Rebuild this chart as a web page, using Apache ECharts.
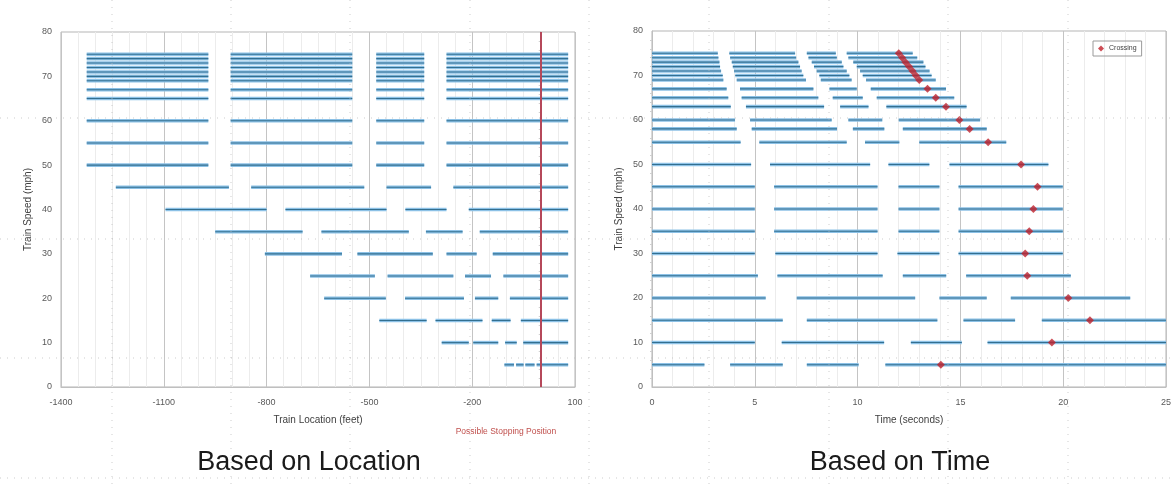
<!DOCTYPE html>
<html>
<head>
<meta charset="utf-8">
<script src="https://cdn.jsdelivr.net/npm/echarts@6/dist/echarts.min.js"></script>
<style>
html,body{margin:0;padding:0;background:#fff;}
#chart{width:1175px;height:487px;}
</style>
</head>
<body>
<div id="chart"></div>
<script>
// ---------- Left panel: Based on Location ----------
const leftTitle = 'Based on Location';
const leftXTicks = [-1400, -1100, -800, -500, -200, 100];
const leftSpeeds = [75, 74, 73, 72, 71, 70, 69, 67, 65, 60, 55, 50, 45, 40, 35, 30, 25, 20, 15, 10, 5];
const leftSegments = [
  [[-1325,-970],[-905,-550],[-480,-340],[-275,80]],
  [[-1325,-970],[-905,-550],[-480,-340],[-275,80]],
  [[-1325,-970],[-905,-550],[-480,-340],[-275,80]],
  [[-1325,-970],[-905,-550],[-480,-340],[-275,80]],
  [[-1325,-970],[-905,-550],[-480,-340],[-275,80]],
  [[-1325,-970],[-905,-550],[-480,-340],[-275,80]],
  [[-1325,-970],[-905,-550],[-480,-340],[-275,80]],
  [[-1325,-970],[-905,-550],[-480,-340],[-275,80]],
  [[-1325,-970],[-905,-550],[-480,-340],[-275,80]],
  [[-1325,-970],[-905,-550],[-480,-340],[-275,80]],
  [[-1325,-970],[-905,-550],[-480,-340],[-275,80]],
  [[-1325,-970],[-905,-550],[-480,-340],[-275,80]],
  [[-1240,-910],[-845,-515],[-450,-320],[-255,80]],
  [[-1095,-800],[-745,-450],[-395,-275],[-210,80]],
  [[-950,-695],[-640,-385],[-335,-228],[-178,80]],
  [[-805,-580],[-535,-315],[-275,-187],[-140,80]],
  [[-673,-484],[-447,-255],[-221,-145],[-109,80]],
  [[-632,-452],[-396,-224],[-192,-124],[-90,80]],
  [[-471,-333],[-307,-170],[-143,-88],[-58,80]],
  [[-289,-210],[-197,-124],[-104,-70],[-51,80]],
  [[-106,-78],[-72,-50],[-45,-18],[-12,80]]
];
const stoppingPosition = 0;

// ---------- Right panel: Based on Time ----------
const rightTitle = 'Based on Time';
const rightXTicks = [0, 5, 10, 15, 20, 25];
const rightSpeeds = [75, 74, 73, 72, 71, 70, 69, 67, 65, 63, 60, 58, 55, 50, 45, 40, 35, 30, 25, 20, 15, 10, 5];
const rightSegments = [
  [[0,3.20],[3.76,6.96],[7.53,8.94],[9.47,12.68]],
  [[0,3.23],[3.80,7.01],[7.61,8.99],[9.55,12.90]],
  [[0,3.28],[3.88,7.12],[7.77,9.23],[9.79,13.20]],
  [[0,3.31],[3.93,7.20],[7.88,9.31],[9.96,13.30]],
  [[0,3.36],[3.99,7.28],[8.01,9.47],[10.12,13.50]],
  [[0,3.44],[4.05,7.36],[8.14,9.60],[10.25,13.60]],
  [[0,3.47],[4.12,7.49],[8.21,9.71],[10.41,13.80]],
  [[0,3.63],[4.28,7.85],[8.63,9.96],[10.64,14.30]],
  [[0,3.71],[4.36,8.09],[8.79,10.25],[10.93,14.70]],
  [[0,3.83],[4.57,8.37],[9.15,10.53],[11.40,15.30]],
  [[0,4.04],[4.77,8.74],[9.55,11.20],[12.00,15.96]],
  [[0,4.12],[4.85,9.00],[9.77,11.30],[12.20,16.28]],
  [[0,4.31],[5.22,9.47],[10.36,12.03],[13.00,17.23]],
  [[0,4.82],[5.74,10.61],[11.50,13.49],[14.47,19.28]],
  [[0,5.00],[5.94,10.97],[11.99,13.98],[14.91,19.98]],
  [[0,5.00],[5.94,10.97],[11.99,13.98],[14.91,19.98]],
  [[0,5.00],[5.94,10.97],[11.99,13.98],[14.91,19.98]],
  [[0,5.00],[6.00,10.97],[11.94,13.98],[14.91,19.98]],
  [[0,5.15],[6.10,11.22],[12.20,14.31],[15.28,20.37]],
  [[0,5.53],[7.04,12.80],[13.98,16.28],[17.45,23.26]],
  [[0,6.36],[7.53,13.88],[15.15,17.66],[18.96,25.00]],
  [[0,5.00],[6.31,11.29],[12.59,15.07],[16.32,25.00]],
  [[0,2.55],[3.80,6.36],[7.53,10.05],[11.35,25.00]]
];
const crossingTimes  = [12.0, 12.17, 12.33, 12.5, 12.67, 12.83, 13.0, 13.4, 13.8, 14.3, 14.95, 15.45, 16.35, 17.95, 18.75, 18.55, 18.35, 18.15, 18.25, 20.25, 21.3, 19.45, 14.05];
const crossingSpeeds = [75, 74, 73, 72, 71, 70, 69, 67, 65, 63, 60, 58, 55, 50, 45, 40, 35, 30, 25, 20, 15, 10, 5];

function flatten(speeds, segs) {
  const out = [];
  speeds.forEach((s, i) => segs[i].forEach(seg => out.push([seg[0], seg[1], s])));
  return out;
}

function renderSeg(params, api) {
  const y = api.value(2);
  const p1 = api.coord([api.value(0), y]);
  const p2 = api.coord([api.value(1), y]);
  const shape = {x1: p1[0], y1: p1[1], x2: p2[0], y2: p2[1]};
  return {
    type: 'group',
    children: [
      {type: 'line', shape: shape, style: {stroke: '#8cc1e6', lineWidth: 3.6}},
      {type: 'line', shape: shape, style: {stroke: '#336f90', lineWidth: 1.1}}
    ]
  };
}

const FONT = 'Liberation Sans';
const labelStyle = {color: '#595959', fontSize: 9, fontFamily: FONT};
const nameStyle = {color: '#404040', fontSize: 10, fontFamily: FONT};

function xAxis(idx, min, max, interval, minorSplit, name) {
  return {
    type: 'value', gridIndex: idx, min: min, max: max, interval: interval,
    name: name, nameLocation: 'middle', nameGap: 28, nameTextStyle: nameStyle,
    axisLine: {show: true, lineStyle: {color: '#bfbfbf'}},
    axisTick: {show: false},
    axisLabel: Object.assign({margin: 11, formatter: v => String(v)}, labelStyle),
    splitLine: {show: true, lineStyle: {color: '#c4c4c4', width: 1}},
    minorTick: {show: false, splitNumber: minorSplit},
    minorSplitLine: {show: true, lineStyle: {color: '#ececec', width: 1}}
  };
}
function yAxis(idx) {
  return {
    type: 'value', gridIndex: idx, min: 0, max: 80, interval: 10,
    name: 'Train Speed (mph)', nameLocation: 'middle', nameGap: 28, nameTextStyle: nameStyle,
    axisLine: {show: true, lineStyle: {color: '#bfbfbf'}},
    axisTick: {show: false},
    minorTick: {show: true, splitNumber: 5, length: 2, lineStyle: {color: '#d0d0d0'}},
    axisLabel: Object.assign({margin: 9, formatter: v => String(v)}, labelStyle),
    splitLine: {show: false}
  };
}

// faint slide guide lines
const guides = [];
[112, 231, 350, 470, 589, 709, 829, 948, 1068].forEach(x => guides.push({
  type: 'line', silent: true, z: 100,
  shape: {x1: x, y1: 0, x2: x, y2: 487},
  style: {stroke: '#b8b8b8', lineWidth: 1, lineDash: [1, 6], opacity: 0.7}
}));
[118, 239, 358, 478].forEach(y => guides.push({
  type: 'line', silent: true, z: 100,
  shape: {x1: 0, y1: y, x2: 1175, y2: y},
  style: {stroke: '#b8b8b8', lineWidth: 1, lineDash: [1, 6], opacity: 0.7}
}));

const chart = echarts.init(document.getElementById('chart'), null, {renderer: 'canvas'});
chart.setOption({
  animation: false,
  backgroundColor: '#fff',
  textStyle: {fontFamily: FONT},
  grid: [
    {left: 61, top: 32, width: 514, height: 355, show: true, borderColor: '#b5b5b5', borderWidth: 1, backgroundColor: 'transparent'},
    {left: 652, top: 31, width: 514, height: 356, show: true, borderColor: '#b5b5b5', borderWidth: 1, backgroundColor: 'transparent'}
  ],
  xAxis: [
    xAxis(0, leftXTicks[0], leftXTicks[leftXTicks.length - 1], 300, 6, 'Train Location (feet)'),
    xAxis(1, rightXTicks[0], rightXTicks[rightXTicks.length - 1], 5, 5, 'Time (seconds)')
  ],
  yAxis: [yAxis(0), yAxis(1)],
  legend: {
    data: [{name: 'Crossing', icon: 'diamond'}],
    left: 1093, top: 41,
    itemWidth: 6, itemHeight: 6, itemGap: 2,
    padding: [4, 5],
    borderColor: '#9a9a9a', borderWidth: 1,
    textStyle: {fontSize: 7, color: '#404040', fontFamily: FONT}
  },
  series: [
    {
      type: 'custom', name: 'Location', xAxisIndex: 0, yAxisIndex: 0,
      data: flatten(leftSpeeds, leftSegments),
      encode: {x: [0, 1], y: 2},
      renderItem: renderSeg,
      clip: true,
      markLine: {
        silent: true, symbol: 'none', label: {show: false},
        lineStyle: {color: '#b5485a', width: 2, type: 'solid'},
        data: [{xAxis: stoppingPosition}]
      }
    },
    {
      type: 'custom', name: 'Time', xAxisIndex: 1, yAxisIndex: 1,
      data: flatten(rightSpeeds, rightSegments),
      encode: {x: [0, 1], y: 2},
      renderItem: renderSeg,
      clip: true
    },
    {
      type: 'scatter', name: 'Crossing', xAxisIndex: 1, yAxisIndex: 1,
      symbol: 'diamond', symbolSize: 8,
      itemStyle: {color: '#c0202a'},
      data: crossingTimes.map((t, i) => [t, crossingSpeeds[i]]),
      z: 5
    }
  ],
  graphic: guides.concat([
    {type: 'text', x: 506, y: 432, style: {text: 'Possible Stopping Position', fill: '#c0504d', font: '8.5px "Liberation Sans"', textAlign: 'center', textVerticalAlign: 'middle'}},
    {type: 'text', x: 309, y: 463, style: {text: leftTitle, fill: '#1a1a1a', font: '27px "Liberation Sans"', textAlign: 'center', textVerticalAlign: 'middle'}},
    {type: 'text', x: 900, y: 463, style: {text: rightTitle, fill: '#1a1a1a', font: '27px "Liberation Sans"', textAlign: 'center', textVerticalAlign: 'middle'}}
  ])
});
</script>
</body>
</html>
